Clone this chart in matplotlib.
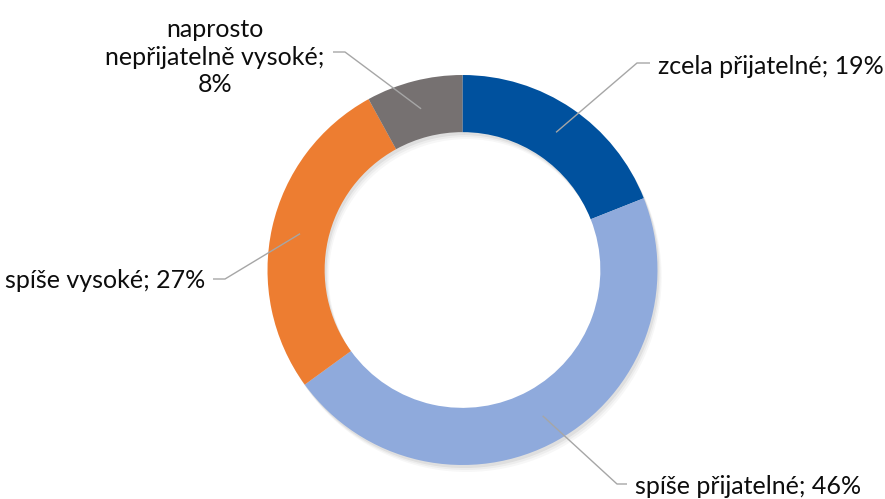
import numpy as np
import matplotlib
matplotlib.use("Agg")
import matplotlib.pyplot as plt

plt.rcParams['font.family'] = ['Lato', 'DejaVu Sans']

# data
labels = ["zcela přijatelné", "spíše přijatelné", "spíše vysoké", "naprosto\nnepřijatelně vysoké;\n"]
values = [19, 46, 27, 8]
colors = ["#00519E", "#8FAADC", "#ED7D31", "#767171"]

W, H = 885, 499
fig = plt.figure(figsize=(W / 100, H / 100), dpi=100)
ax = fig.add_axes([0, 0, 1, 1])
ax.set_xlim(0, W)
ax.set_ylim(0, H)
ax.axis('off')

cx, cy = 462.5, H - 270
R = 195
ring = 0.293

# soft shadow under the ring
for k, a in [(7, 0.03), (5, 0.04), (3, 0.06)]:
    ax.pie(values, radius=R, center=(cx + k * 0.6, cy - k), startangle=90, counterclock=False,
           colors=["#000000"] * len(values),
           wedgeprops=dict(width=R * ring, edgecolor='none', alpha=a))

wedges, _ = ax.pie(values, radius=R, center=(cx, cy), startangle=90, counterclock=False,
                   colors=colors, wedgeprops=dict(width=R * ring, edgecolor='none'))
ax.set_xlim(0, W)
ax.set_ylim(0, H)
ax.set_aspect('equal')

# label layout (pixel coords from top): elbow, line end, text anchor, alignment
layout = [
    dict(elbow=(637, 63), end=(650, 63), text=(658, 66), ha='left'),
    dict(elbow=(617, 484), end=(627, 484), text=(635, 487), ha='left'),
    dict(elbow=(225, 279), end=(213, 279), text=(205, 281), ha='right'),
    dict(elbow=(345, 52), end=(333, 52), text=(215, 57), ha='center'),
]

rmid = R * (1 - ring / 2)
for w, lab, val, lay in zip(wedges, labels, values, layout):
    ang = np.deg2rad((w.theta1 + w.theta2) / 2)
    x0, y0 = cx + rmid * np.cos(ang), cy + rmid * np.sin(ang)
    ex, ey = lay['elbow']
    lx, ly = lay['end']
    ax.plot([x0, ex, lx], [y0, H - ey, H - ly], color="#A6A6A6", lw=1.0,
            solid_capstyle='butt', zorder=5)
    if lab.endswith("\n"):
        txt = f"{lab}{val}%"
    else:
        txt = f"{lab}; {val}%"
    tx, ty = lay['text']
    ax.text(tx, H - ty, txt, ha=lay['ha'], va='center', multialignment='center',
            fontsize=18, color="#0d0d0d", linespacing=1.25)

fig.savefig("out.png", dpi=100)
